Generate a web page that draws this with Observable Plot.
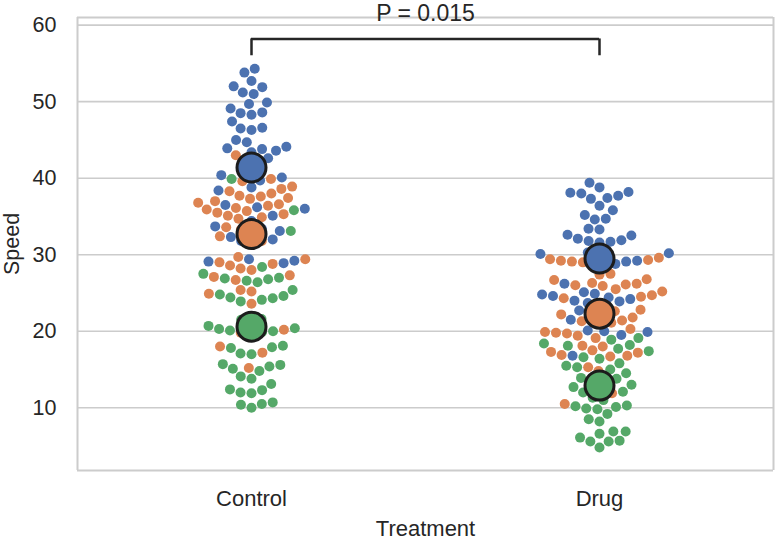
<!DOCTYPE html>
<html><head><meta charset="utf-8">
<script src="https://cdn.jsdelivr.net/npm/d3@7"></script>
<script src="https://cdn.jsdelivr.net/npm/@observablehq/plot@0.6"></script>
<style>body{margin:0;background:#fff}</style>
</head><body><div id="chart"></div>
<script>
const treatments = ["Control", "Drug"];
const replicates = ["1", "2", "3"];
const replicateColors = ["#4C72B0", "#DD8452", "#55A868"];

const controlBlue = [54.3, 53.8, 52.7, 52.0, 51.9, 51.2, 51.0, 49.9, 49.7, 49.1, 48.6, 48.5, 48.3, 47.4, 46.6, 46.5, 46.3, 45.0, 44.7, 44.1, 43.9, 43.8, 43.6, 43.4, 42.6, 42.2, 41.0, 40.4, 40.1, 39.7, 38.8, 38.4, 36.5, 36.2, 36.0, 35.1, 34.4, 33.7, 33.4, 33.1, 32.3, 32.0, 31.8, 29.4, 29.2, 29.1, 28.9];
const controlOrange = [43.0, 42.1, 39.9, 39.6, 38.9, 38.6, 38.3, 38.0, 37.7, 37.4, 37.6, 37.3, 37.0, 36.8, 36.6, 36.4, 36.1, 35.9, 35.7, 35.5, 35.3, 35.1, 34.9, 34.7, 33.6, 33.3, 32.9, 32.4, 31.8, 31.3, 29.7, 29.4, 29.0, 28.8, 28.6, 28.2, 28.0, 27.3, 27.1, 26.7, 25.4, 25.2, 24.9, 23.6, 20.2, 19.8, 18.0, 17.2, 15.2];
const controlGreen = [39.9, 35.8, 33.1, 28.4, 27.5, 27.0, 26.8, 26.9, 26.6, 26.4, 25.4, 24.8, 24.6, 24.3, 24.1, 24.4, 23.9, 21.6, 21.5, 21.0, 20.7, 20.4, 20.3, 20.1, 20.0, 19.9, 19.5, 18.1, 17.9, 17.8, 17.1, 17.0, 15.7, 15.6, 15.4, 15.1, 14.8, 14.1, 13.8, 13.1, 12.4, 12.3, 12.0, 11.9, 10.7, 10.4, 10.5, 10.0];
const drugBlue = [39.4, 38.8, 38.1, 38.2, 38.0, 37.7, 37.4, 37.3, 36.4, 35.8, 35.2, 34.7, 34.6, 33.4, 33.3, 32.6, 32.5, 32.1, 31.9, 31.8, 31.7, 31.6, 30.3, 30.2, 30.1, 30.0, 29.9, 29.2, 29.1, 28.8, 28.7, 28.6, 26.2, 25.1, 24.9, 24.8, 24.6, 24.4, 24.2, 24.0, 23.9, 23.7, 22.7, 22.2, 21.5, 21.1, 20.1, 20.0, 19.9, 19.5, 16.8];
const drugOrange = [29.6, 29.4, 29.3, 29.2, 29.1, 29.0, 27.5, 27.4, 26.8, 26.7, 26.3, 26.1, 26.2, 26.0, 25.9, 25.5, 25.2, 24.7, 24.5, 24.3, 23.6, 22.8, 22.6, 22.4, 22.2, 21.8, 21.4, 21.3, 21.1, 20.3, 19.9, 19.8, 19.7, 19.4, 19.1, 18.1, 18.0, 17.5, 17.3, 17.2, 16.9, 16.8, 16.7, 15.3, 14.8, 11.9, 10.5];
const drugGreen = [19.1, 18.9, 18.4, 18.2, 18.1, 17.7, 17.4, 16.6, 16.4, 15.8, 15.5, 15.3, 15.0, 14.5, 13.9, 13.8, 13.7, 13.5, 13.0, 12.7, 12.5, 12.1, 12.0, 11.3, 11.0, 10.3, 10.2, 10.1, 9.9, 9.8, 9.2, 8.5, 8.2, 6.9, 6.9, 6.6, 6.1, 5.7, 5.6, 5.6, 4.8];

const controlMeans = [41.4, 32.7, 20.6];
const drugMeans = [29.5, 22.3, 12.9];

const yTicks = [10, 20, 30, 40, 50, 60];
const yDomain = [1.8, 61.0];
const pValueText = "P = 0.015";
const bracketTop = 58.2;
const bracketFoot = 56.0;
const pLabelY = 61.5;

// build tables
const cells = [];
[["Control", [controlBlue, controlOrange, controlGreen]], ["Drug", [drugBlue, drugOrange, drugGreen]]]
  .forEach(([t, groups]) => groups.forEach((vals, i) =>
    vals.forEach(v => cells.push({treatment: t, replicate: replicates[i], speed: v}))));
cells.sort((a, b) => d3.ascending(a.speed, b.speed));

const means = [];
[["Control", controlMeans], ["Drug", drugMeans]].forEach(([t, vals]) =>
  vals.forEach((v, i) => means.push({treatment: t, replicate: replicates[i], speed: v, pos: 0})));

const bracketH = [{treatment: "Control", x1: 0, x2: 0.5, y: bracketTop}, {treatment: "Drug", x1: -0.5, x2: 0, y: bracketTop}];
const bracketV = [{treatment: "Control", x: 0, y1: bracketFoot, y2: bracketTop}, {treatment: "Drug", x: 0, y1: bracketFoot, y2: bracketTop}];
const pLabel = [{treatment: "Control", x: 0.5, y: pLabelY, text: pValueText}];
const sideEdges = [{treatment: "Control", x: -0.5}, {treatment: "Drug", x: 0.5}];

const ink = "#262626";
const gridColor = "#cccccc";

const chart = Plot.plot({
  width: 775,
  height: 539,
  marginLeft: 76,
  marginRight: 2,
  marginTop: 17,
  marginBottom: 69,
  style: {fontFamily: "'Liberation Sans', Arial, sans-serif", fontSize: "21px", color: ink, background: "#ffffff"},
  fx: {domain: treatments, padding: 0},
  x: {domain: [-0.5, 0.5], axis: null},
  y: {domain: yDomain},
  color: {domain: replicates, range: replicateColors},
  marks: [
    Plot.gridY(yTicks, {stroke: gridColor, strokeOpacity: 1, strokeWidth: 1.6}),
    Plot.ruleY(yDomain, {stroke: gridColor, strokeWidth: 2}),
    Plot.ruleX(sideEdges, {fx: "treatment", x: "x", stroke: gridColor, strokeWidth: 2}),
    Plot.dot(cells, Plot.dodgeX("middle", {fx: "treatment", y: "speed", fill: "replicate", r: 5, padding: 0.2})),
    Plot.dot(means, {fx: "treatment", x: "pos", y: "speed", fill: "replicate", r: 14.5, stroke: "#1c1c1c", strokeWidth: 3}),
    Plot.ruleY(bracketH, {fx: "treatment", x1: "x1", x2: "x2", y: "y", stroke: ink, strokeWidth: 2.5}),
    Plot.ruleX(bracketV, {fx: "treatment", x: "x", y1: "y1", y2: "y2", stroke: ink, strokeWidth: 2.5}),
    Plot.text(pLabel, {fx: "treatment", x: "x", y: "y", text: "text", fontSize: 23, fill: ink, lineAnchor: "middle"}),
    Plot.axisY(yTicks, {tickSize: 0, tickPadding: 21, fontSize: 21.5, fill: ink, label: "Speed", labelAnchor: "center", labelArrow: "none", labelOffset: 74}),
    Plot.axisFx({anchor: "bottom", tickSize: 0, tickPadding: 20, fontSize: 22, fill: ink, label: "Treatment", labelAnchor: "center", labelArrow: "none", labelOffset: 65})
  ]
});
document.getElementById("chart").appendChild(chart);
</script>
</body></html>
